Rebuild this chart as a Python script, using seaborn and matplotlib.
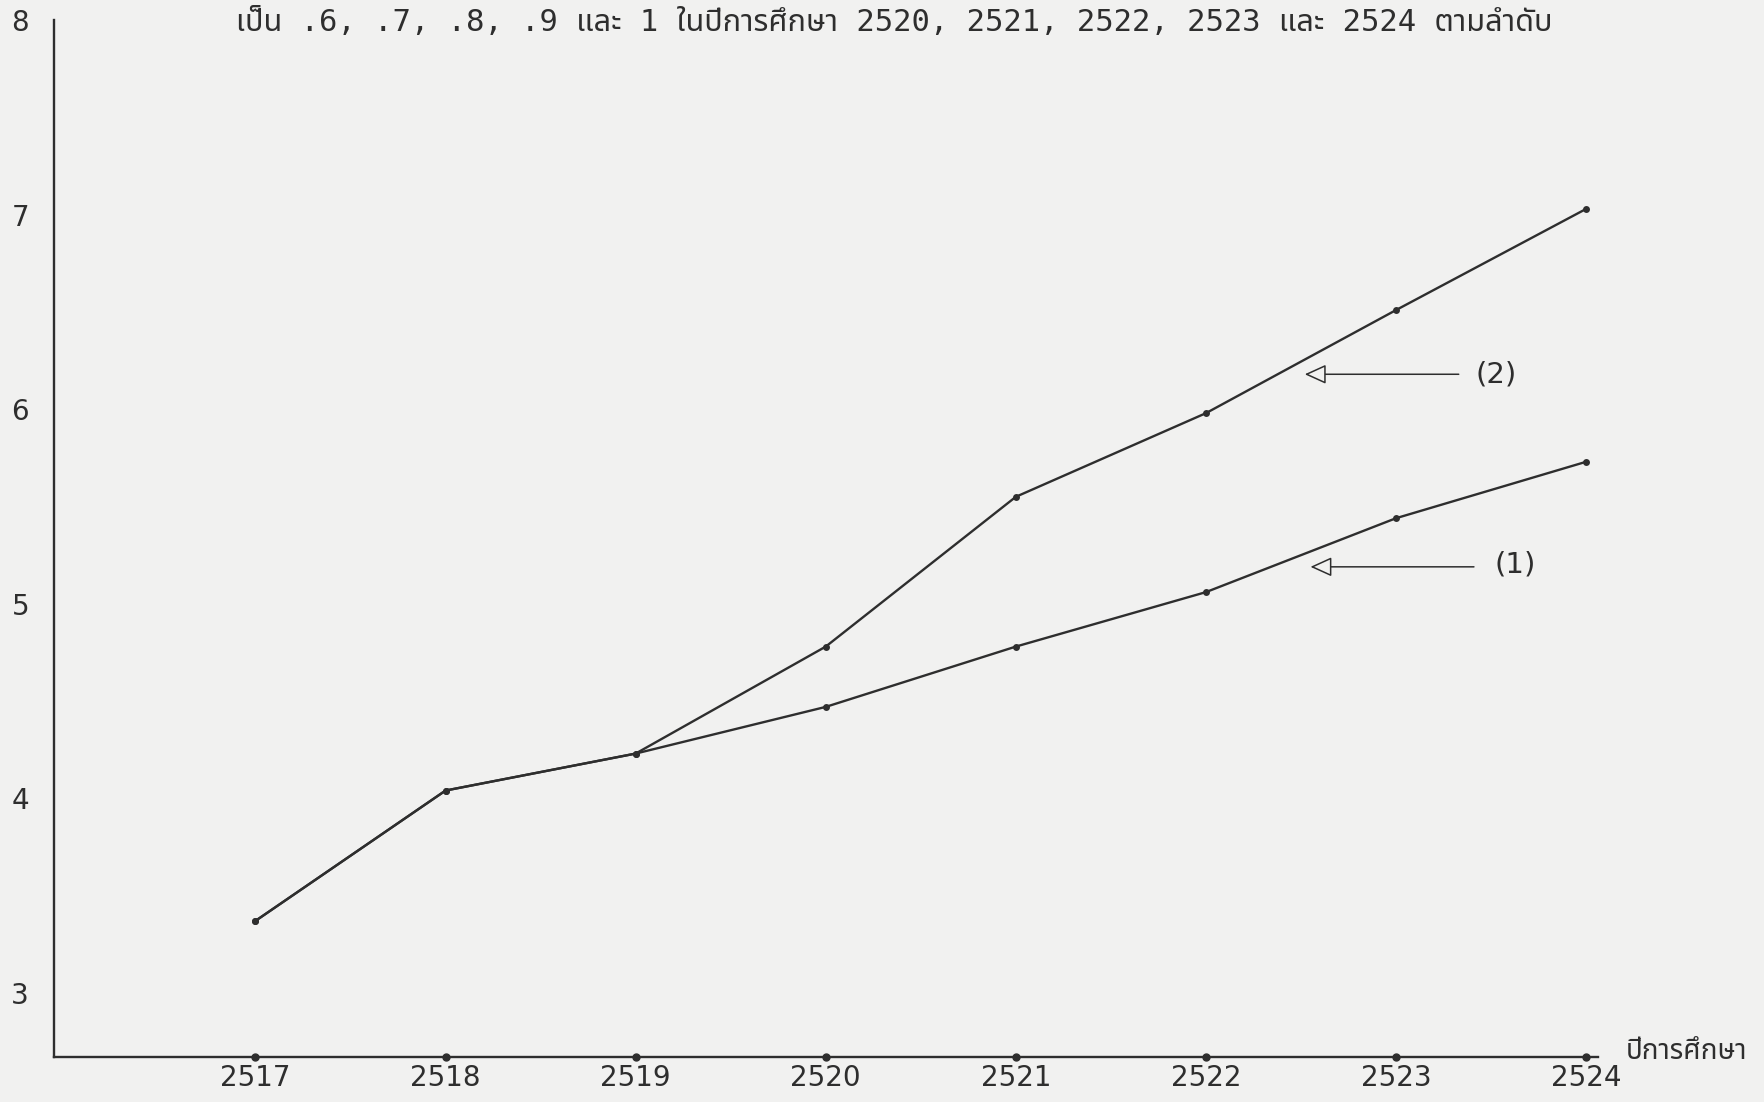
import numpy as np
import pandas as pd
import seaborn as sns
import matplotlib.pyplot as plt

# values
years = [2517, 2518, 2519, 2520, 2521, 2522, 2523, 2524]
series_1 = [3.37, 4.04, 4.23, 4.47, 4.78, 5.06, 5.44, 5.73]
series_2 = [3.37, 4.04, 4.23, 4.78, 5.55, 5.98, 6.51, 7.03]
y_ticks = [3, 4, 5, 6, 7, 8]

title = 'เป็น .6, .7, .8, .9 และ 1 ในปีการศึกษา 2520, 2521, 2522, 2523 และ 2524 ตามลำดับ'
x_label = 'ปีการศึกษา'

sns.set_theme(style='white')
plt.rcParams['font.family'] = ['DejaVu Sans', 'Noto Sans Thai', 'Loma', 'Garuda', 'Tlwg Typo']

ink = '#2e2e2e'
paper = '#f1f1f0'

df = pd.DataFrame({
    'year': years * 2,
    'value': series_1 + series_2,
    'series': ['(1)'] * len(years) + ['(2)'] * len(years),
})

# layout measured on a 1568x980 view of the page
W, H = 1568, 980
fig = plt.figure(figsize=(17.64, 11.02), dpi=100, facecolor=paper)
ax = fig.add_axes([48 / W, 1 - 940 / H, (1420 - 48) / W, (940 - 18) / H])
ax.set_facecolor(paper)

sns.lineplot(data=df, x='year', y='value', hue='series', palette=[ink, ink],
             marker='o', markersize=5, markeredgewidth=0, linewidth=1.7,
             legend=False, ax=ax)

# dots along the x axis
ax.plot(years, [2.67] * len(years), 'o', color=ink, markersize=5, clip_on=False)

ax.set_xlim(2515.94, 2524.06)
ax.set_ylim(2.67, 8.0)
ax.set_xticks(years)
ax.set_yticks(y_ticks)
ax.tick_params(axis='both', length=0, labelsize=20, colors=ink)
ax.tick_params(axis='x', pad=5)
ax.tick_params(axis='y', pad=18)
ax.set_xlabel('')
ax.set_ylabel('')

for side in ['top', 'right']:
    ax.spines[side].set_visible(False)
for side in ['left', 'bottom']:
    ax.spines[side].set_color(ink)
    ax.spines[side].set_linewidth(1.7)

arrow = dict(arrowstyle='-|>,head_length=1.1,head_width=0.5', edgecolor=ink,
             facecolor=paper, linewidth=1.1, shrinkA=0, shrinkB=0)
ax.annotate('', xy=(2522.52, 6.18), xytext=(2523.33, 6.18), arrowprops=arrow)
ax.text(2523.42, 6.18, '(2)', fontsize=21, color=ink, va='center', ha='left')
ax.annotate('', xy=(2522.55, 5.19), xytext=(2523.41, 5.19), arrowprops=arrow)
ax.text(2523.52, 5.20, '(1)', fontsize=21, color=ink, va='center', ha='left')

ax.text(2524.21, 2.70, x_label, fontsize=20, color=ink, va='center', ha='left', clip_on=False)
fig.text(210 / W, 1 - 20 / H, title, fontsize=22, color=ink, va='center', ha='left',
         family=['DejaVu Sans Mono', 'Noto Sans Thai', 'Loma', 'Garuda', 'Tlwg Typo'])

fig.savefig('out.png', dpi=100, facecolor=paper)
